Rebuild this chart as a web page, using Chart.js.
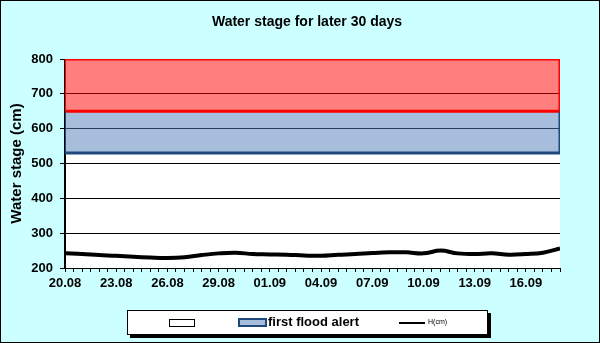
<!DOCTYPE html>
<html>
<head>
<meta charset="utf-8">
<script src="https://cdn.jsdelivr.net/npm/chart.js@4.4.1/dist/chart.umd.min.js"></script>
<style>
    html, body { margin: 0; padding: 0; background: #ccffff; }
    #wrap { position: relative; width: 600px; height: 343px; background: #ccffff; font-family: 'Liberation Sans', Arial, sans-serif; }
    #frame { position: absolute; left: 0; top: 0; width: 600px; height: 343px; box-sizing: border-box; border: 1px solid #000; pointer-events: none; }
    #title { position: absolute; left: 0; width: 614px; top: 13px; text-align: center; font-weight: bold; font-size: 14px; color: #000; }
    #legend { position: absolute; left: 127px; top: 310px; width: 359px; height: 23px; background: #fff; border: 1px solid #000; box-shadow: 3px 3px 0 #000; }
    .lg { position: absolute; }
    #lg-white { left: 41px; top: 8px; width: 24px; height: 6px; border: 1px solid #000; background: #fff; }
    #lg-blue { left: 110px; top: 7px; width: 25px; height: 5px; border: 2px solid #1f497d; background: #a6bddb; }
    #lg-blue-txt { left: 140px; top: 3px; font-size: 13px; font-weight: bold; }
    #lg-line { left: 271px; top: 11px; width: 26px; height: 2px; background: #000; }
    #lg-line-txt { left: 300px; top: 7px; font-size: 7px; }
</style>
</head>
<body>
<div id="wrap">
    <canvas id="chart"></canvas>
    <div id="title">Water stage for later 30 days</div>
    <div id="legend">
        <div class="lg" id="lg-white"></div>
        <div class="lg" id="lg-blue"></div>
        <div class="lg" id="lg-blue-txt">first flood alert</div>
        <div class="lg" id="lg-line"></div>
        <div class="lg" id="lg-line-txt">H(cm)</div>
    </div>
    <div id="frame"></div>
</div>
<script>
// dates shown on the x axis (one per day)
const dates = ['20.08', '21.08', '22.08', '23.08', '24.08', '25.08', '26.08', '27.08', '28.08', '29.08',
    '30.08', '31.08', '01.09', '02.09', '03.09', '04.09', '05.09', '06.09', '07.09', '08.09',
    '09.09', '10.09', '11.09', '12.09', '13.09', '14.09', '15.09', '16.09', '17.09', '18.09'];

// water stage H (cm)
const stage = [242, 240, 237, 235, 232, 230, 229, 231, 237, 242,
    244, 240, 239, 238, 236, 235, 238, 240, 243, 245,
    245, 242, 250, 242, 240, 242, 238, 240, 244, 256];

// alert band limits (cm)
const firstAlertLow = 530;
const firstAlertHigh = 650;
const secondAlertHigh = 800;

const yMin = 200;
const yMax = 800;
const yStep = 100;

const BLUE = '#1f497d';
const RED = '#ff0000';
const FONT = "'Liberation Sans', Arial, sans-serif";

const lastIdx = dates.length - 1;
const flat = (v) => [{ x: 0, y: v }, { x: lastIdx, y: v }];
const vert = (x, a, b) => [{ x: x, y: a }, { x: x, y: b }];

const plotBg = {
    id: 'plotBg',
    beforeDraw(chart) {
        const { ctx, chartArea: a } = chart;
        ctx.save();
        ctx.fillStyle = '#ffffff';
        ctx.fillRect(a.left, a.top, a.right - a.left, a.bottom - a.top);
        ctx.restore();
    },
    afterDatasetsDraw(chart) {
        // black axis line stays visible next to the band edges
        const { ctx, chartArea: a } = chart;
        ctx.save();
        ctx.strokeStyle = '#000';
        ctx.lineWidth = 1;
        ctx.beginPath();
        ctx.moveTo(a.left - 0.5, a.top);
        ctx.lineTo(a.left - 0.5, a.bottom);
        ctx.stroke();
        ctx.restore();
    }
};

const bandLine = (data, color, order, extra) => Object.assign({
    data: data,
    borderColor: color,
    borderWidth: 3,
    pointRadius: 0,
    fill: false,
    order: order
}, extra || {});

new Chart(document.getElementById('chart'), {
    type: 'line',
    data: {
        datasets: [
            {
                label: 'H(cm)',
                data: stage.map((v, i) => ({ x: i, y: v })),
                borderColor: '#000',
                borderWidth: 4,
                pointRadius: 0,
                tension: 0.4,
                fill: false,
                order: 0
            },
            bandLine(flat(firstAlertLow), BLUE, 1),
            bandLine(flat(firstAlertHigh), RED, 2, { fill: 1, backgroundColor: 'rgba(77, 123, 183, 0.5)' }),
            bandLine(flat(secondAlertHigh), RED, 3, { fill: '-1', backgroundColor: 'rgba(255, 0, 0, 0.5)' }),
            bandLine(vert(lastIdx, firstAlertLow, firstAlertHigh), BLUE, 1),
            bandLine(vert(lastIdx, firstAlertHigh, secondAlertHigh), RED, 2),
            bandLine(vert(0, firstAlertLow, firstAlertHigh), BLUE, 1, { borderWidth: 2 }),
            bandLine(vert(0, firstAlertHigh, secondAlertHigh), RED, 2, { borderWidth: 2 })
        ]
    },
    options: {
        responsive: true,
        maintainAspectRatio: false,
        animation: false,
        layout: { padding: { top: 59, right: 40, left: 0, bottom: 0 } },
        plugins: {
            legend: { display: false },
            tooltip: { enabled: false }
        },
        scales: {
            x: {
                type: 'linear',
                min: 0,
                max: lastIdx,
                afterFit: (s) => { s.height = 75; },
                border: { display: true, color: '#000', width: 1 },
                grid: { drawOnChartArea: false, color: '#000', tickLength: 4 },
                ticks: {
                    stepSize: 0.5,
                    autoSkip: false,
                    maxRotation: 0,
                    padding: 4,
                    color: '#000',
                    font: { family: FONT, size: 13, weight: 'bold' },
                    callback: (v) => (Number.isInteger(v) && v % 3 === 0) ? dates[v] : ''
                }
            },
            y: {
                min: yMin,
                max: yMax,
                afterFit: (s) => { s.width = 65; },
                border: { display: true, color: '#000', width: 1 },
                grid: { color: '#000', tickLength: 5 },
                ticks: {
                    stepSize: yStep,
                    padding: 7,
                    color: '#000',
                    font: { family: FONT, size: 13, weight: 'bold' }
                },
                title: {
                    display: true,
                    text: 'Water stage (cm)',
                    color: '#000',
                    padding: { top: 8, bottom: 0 },
                    font: { family: FONT, size: 15, weight: 'bold' }
                }
            }
        }
    },
    plugins: [plotBg]
});
</script>
</body>
</html>
